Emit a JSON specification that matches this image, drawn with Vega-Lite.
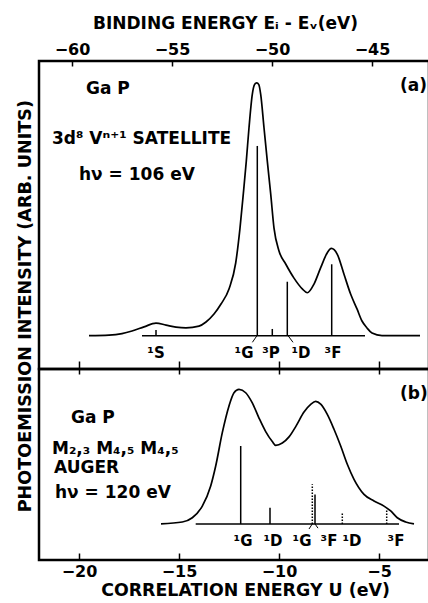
{
  "$schema": "https://vega.github.io/schema/vega-lite/v6.json",
  "padding": {"left": 17, "top": 12, "right": 0, "bottom": 0},
  "background": "white",
  "title": {"text": "PHOTOEMISSION INTENSITY (ARB. UNITS)", "orient": "left", "anchor": "middle", "font": "DejaVu Sans", "fontSize": 17.6, "fontWeight": "bold", "color": "black", "offset": 3},
  "spacing": 0,
  "bounds": "flush",
  "datasets": {
    "topCurve": [
      {"E": -59.15, "I": 0}, {"E": -58.15, "I": 0.2}, {"E": -57.5, "I": 0.8}, {"E": -57.0, "I": 1.8}, {"E": -56.4, "I": 3.4}, {"E": -55.8, "I": 4.9}, {"E": -55.3, "I": 4.1}, {"E": -54.8, "I": 3.3}, {"E": -54.3, "I": 3.0}, {"E": -53.65, "I": 3.7}, {"E": -53.3, "I": 5.3}, {"E": -52.9, "I": 8.4}, {"E": -52.55, "I": 12.3}, {"E": -52.15, "I": 18.2}, {"E": -51.815, "I": 28.3}, {"E": -51.6, "I": 41.9}, {"E": -51.435, "I": 55.2}, {"E": -51.285, "I": 68.0}, {"E": -51.15, "I": 81.0}, {"E": -50.985, "I": 94.0}, {"E": -50.875, "I": 97.8}, {"E": -50.765, "I": 98.5}, {"E": -50.66, "I": 97.8}, {"E": -50.565, "I": 94.0}, {"E": -50.4, "I": 81.0}, {"E": -50.235, "I": 68.0}, {"E": -50.065, "I": 55.2}, {"E": -49.9, "I": 41.9}, {"E": -49.65, "I": 33.0}, {"E": -49.315, "I": 27.9}, {"E": -48.9, "I": 22.4}, {"E": -48.485, "I": 18.2}, {"E": -48.235, "I": 16.7}, {"E": -47.9, "I": 20.1}, {"E": -47.565, "I": 26.5}, {"E": -47.235, "I": 32.3}, {"E": -47.035, "I": 34.0}, {"E": -46.735, "I": 31.7}, {"E": -46.4, "I": 23.9}, {"E": -46.065, "I": 16.1}, {"E": -45.75, "I": 10.4}, {"E": -45.5, "I": 5.7}, {"E": -45.25, "I": 3.0}, {"E": -45.0, "I": 1.0}, {"E": -44.5, "I": 0}, {"E": -43.9, "I": 0}, {"E": -42.6, "I": 0}
    ],
    "topBase": [{"E0": -56.5, "E1": -45.35, "I": 0}],
    "topSticks": [
      {"E": -55.8, "I0": 0, "I": 2.2}, {"E": -50.735, "I0": 0, "I": 73.9}, {"E": -49.985, "I0": 0, "I": 2.6}, {"E": -49.235, "I0": 0, "I": 21.0}, {"E": -47.015, "I0": 0, "I": 27.8}
    ],
    "topLinks": [
      {"E0": -50.75, "E1": -50.98, "I0": 0, "I1": -2.6},
      {"E0": -49.2, "E1": -48.95, "I0": 0, "I1": -2.6}
    ],
    "topLabels": [
      {"E": -55.8, "I": -6.8, "t": "¹S"}, {"E": -51.4, "I": -6.8, "t": "¹G"}, {"E": -50.05, "I": -6.8, "t": "³P"}, {"E": -48.55, "I": -6.8, "t": "¹D"}, {"E": -46.95, "I": -6.8, "t": "³F"}
    ],
    "topText": [
      {"E": -59.3, "I": 96.1, "t": "Ga P"},
      {"E": -61.0, "I": 76.6, "t": "3d⁸ Vⁿ⁺¹ SATELLITE"},
      {"E": -59.65, "I": 62.5, "t": "hν = 106 eV"},
      {"E": -43.6, "I": 97.2, "t": "(a)"}
    ],
    "botCurve": [
      {"U": -15.9, "I": 0}, {"U": -14.835, "I": 0.9}, {"U": -14.335, "I": 2.9}, {"U": -13.835, "I": 8.4}, {"U": -13.415, "I": 17.9}, {"U": -13.165, "I": 27.3}, {"U": -12.835, "I": 43.0}, {"U": -12.5, "I": 55.6}, {"U": -12.25, "I": 61.8}, {"U": -12.0, "I": 63.4}, {"U": -11.665, "I": 61.8}, {"U": -11.335, "I": 57.0}, {"U": -11.0, "I": 49.9}, {"U": -10.665, "I": 43.5}, {"U": -10.335, "I": 38.8}, {"U": -10.165, "I": 37.0}, {"U": -9.835, "I": 38.1}, {"U": -9.5, "I": 41.0}, {"U": -9.15, "I": 46.1}, {"U": -8.75, "I": 52.7}, {"U": -8.415, "I": 56.3}, {"U": -8.165, "I": 57.7}, {"U": -7.915, "I": 56.4}, {"U": -7.585, "I": 51.6}, {"U": -7.25, "I": 44.6}, {"U": -6.915, "I": 36.7}, {"U": -6.585, "I": 28.1}, {"U": -6.25, "I": 21.0}, {"U": -5.75, "I": 13.9}, {"U": -5.25, "I": 10.8}, {"U": -4.75, "I": 8.4}, {"U": -4.415, "I": 6.1}, {"U": -4.085, "I": 2.9}, {"U": -3.665, "I": 0.9}, {"U": -3.25, "I": 0}
    ],
    "botBase": [{"U0": -14.165, "U1": -4.0, "I": 0}],
    "botSticks": [
      {"U": -11.915, "I0": 0, "I": 36.7, "set": "solid"}, {"U": -10.45, "I0": 0, "I": 7.6, "set": "solid"}, {"U": -8.2, "I0": 0, "I": 13.9, "set": "solid"},
      {"U": -8.335, "I0": 0, "I": 18.7, "set": "dotted"}, {"U": -6.835, "I0": 0, "I": 5.6, "set": "dotted"}, {"U": -4.615, "I0": 0, "I": 6.9, "set": "dotted"}
    ],
    "botLinks": [
      {"U0": -8.335, "U1": -8.5, "I0": 0, "I1": -2.4},
      {"U0": -8.2, "U1": -8.05, "I0": 0, "I1": -2.0}
    ],
    "botLabels": [
      {"U": -11.8, "I": -8.1, "t": "¹G"}, {"U": -10.3, "I": -8.1, "t": "¹D"}, {"U": -8.85, "I": -8.1, "t": "¹G"}, {"U": -7.5, "I": -8.1, "t": "³F"}, {"U": -6.35, "I": -8.1, "t": "¹D"}, {"U": -4.15, "I": -8.1, "t": "³F"}
    ],
    "botText": [
      {"U": -20.4, "I": 49.9, "t": "Ga P"},
      {"U": -21.35, "I": 35.3, "t": "M₂,₃ M₄,₅ M₄,₅"},
      {"U": -21.25, "I": 26.3, "t": "AUGER"},
      {"U": -21.2, "I": 14.6, "t": "hν = 120 eV"},
      {"U": -3.95, "I": 61.2, "t": "(b)"}
    ]
  },
  "vconcat": [
    {
      "width": 390,
      "height": 308,
      "resolve": {"axis": {"x": "independent"}},
      "layer": [
        {
          "data": {"name": "topCurve"},
          "mark": {"type": "line", "color": "black", "strokeWidth": 1.7, "interpolate": "monotone"},
          "encoding": {
            "x": {"field": "E", "type": "quantitative", "scale": {"domain": [-61.65, -42.15], "nice": false, "zero": false},
              "axis": {"orient": "top", "values": [-60, -55, -50, -45], "title": "BINDING ENERGY Eᵢ - Eᵥ(eV)", "grid": false, "domain": false,
                "tickSize": -5, "tickWidth": 1.5, "tickColor": "black", "labelPadding": 9, "labelFont": "DejaVu Sans", "labelFontSize": 16, "labelFontWeight": "bold", "labelColor": "black",
                "titleFont": "DejaVu Sans", "titleFontSize": 17, "titleFontWeight": "bold", "titleColor": "black", "titlePadding": 9, "titleX": 186, "titleAnchor": "middle"}},
            "y": {"field": "I", "type": "quantitative", "scale": {"domain": [-13, 107], "nice": false, "zero": false}, "axis": null}
          }
        },
        {
          "data": {"name": "topBase"},
          "mark": {"type": "rule", "color": "black", "strokeWidth": 1.5},
          "encoding": {
            "x": {"field": "E0", "type": "quantitative", "axis": null},
            "x2": {"field": "E1"},
            "y": {"field": "I", "type": "quantitative", "axis": null}
          }
        },
        {
          "data": {"name": "topSticks"},
          "mark": {"type": "rule", "color": "black", "strokeWidth": 1.5},
          "encoding": {
            "x": {"field": "E", "type": "quantitative", "axis": null},
            "y": {"field": "I0", "type": "quantitative", "axis": null},
            "y2": {"field": "I"}
          }
        },
        {
          "data": {"name": "topLinks"},
          "mark": {"type": "rule", "color": "black", "strokeWidth": 1},
          "encoding": {
            "x": {"field": "E0", "type": "quantitative", "axis": null},
            "x2": {"field": "E1"},
            "y": {"field": "I0", "type": "quantitative", "axis": null},
            "y2": {"field": "I1"}
          }
        },
        {
          "data": {"name": "topLabels"},
          "mark": {"type": "text", "font": "DejaVu Sans", "fontSize": 15, "fontWeight": "bold", "color": "black", "align": "center", "baseline": "middle"},
          "encoding": {
            "x": {"field": "E", "type": "quantitative", "axis": null},
            "y": {"field": "I", "type": "quantitative", "axis": null},
            "text": {"field": "t"}
          }
        },
        {
          "data": {"name": "topText"},
          "mark": {"type": "text", "font": "DejaVu Sans", "fontSize": 17, "fontWeight": "bold", "color": "black", "align": "left", "baseline": "middle"},
          "encoding": {
            "x": {"field": "E", "type": "quantitative", "axis": null},
            "y": {"field": "I", "type": "quantitative", "axis": null},
            "text": {"field": "t"}
          }
        }
      ]
    },
    {
      "width": 390,
      "height": 191,
      "resolve": {"axis": {"x": "independent"}},
      "layer": [
        {
          "data": {"name": "botCurve"},
          "mark": {"type": "line", "color": "black", "strokeWidth": 1.7, "interpolate": "monotone"},
          "encoding": {
            "x": {"field": "U", "type": "quantitative", "scale": {"domain": [-22, -2.5], "nice": false, "zero": false},
              "axis": {"orient": "bottom", "values": [-20, -15, -10, -5], "title": "CORRELATION ENERGY U (eV)", "grid": false, "domain": false,
                "tickSize": -7, "tickWidth": 1.5, "tickColor": "black", "labelPadding": 10, "labelFont": "DejaVu Sans", "labelFontSize": 16, "labelFontWeight": "bold", "labelColor": "black",
                "titleFont": "DejaVu Sans", "titleFontSize": 17.4, "titleFontWeight": "bold", "titleColor": "black", "titlePadding": 2, "titleX": 206, "titleAnchor": "middle"}},
            "y": {"field": "I", "type": "quantitative", "scale": {"domain": [-17, 73], "nice": false, "zero": false}, "axis": null}
          }
        },
        {
          "data": {"name": "botBase"},
          "mark": {"type": "rule", "color": "black", "strokeWidth": 1.5},
          "encoding": {
            "x": {"field": "U0", "type": "quantitative",
              "axis": {"orient": "top", "values": [-20, -15, -10, -5], "title": null, "labels": false, "domain": false, "grid": false, "offset": -5, "tickSize": 13, "tickWidth": 1.5, "tickColor": "black"}},
            "x2": {"field": "U1"},
            "y": {"field": "I", "type": "quantitative", "axis": null}
          }
        },
        {
          "data": {"name": "botSticks"},
          "mark": {"type": "rule", "color": "black", "strokeWidth": 1.5},
          "encoding": {
            "x": {"field": "U", "type": "quantitative", "axis": null},
            "y": {"field": "I0", "type": "quantitative", "axis": null},
            "y2": {"field": "I"},
            "strokeDash": {"field": "set", "type": "nominal", "scale": {"domain": ["solid", "dotted"], "range": [[1, 0], [1.5, 1.5]]}, "legend": null}
          }
        },
        {
          "data": {"name": "botLinks"},
          "mark": {"type": "rule", "color": "black", "strokeWidth": 1},
          "encoding": {
            "x": {"field": "U0", "type": "quantitative", "axis": null},
            "x2": {"field": "U1"},
            "y": {"field": "I0", "type": "quantitative", "axis": null},
            "y2": {"field": "I1"}
          }
        },
        {
          "data": {"name": "botLabels"},
          "mark": {"type": "text", "font": "DejaVu Sans", "fontSize": 15, "fontWeight": "bold", "color": "black", "align": "center", "baseline": "middle"},
          "encoding": {
            "x": {"field": "U", "type": "quantitative", "axis": null},
            "y": {"field": "I", "type": "quantitative", "axis": null},
            "text": {"field": "t"}
          }
        },
        {
          "data": {"name": "botText"},
          "mark": {"type": "text", "font": "DejaVu Sans", "fontSize": 17, "fontWeight": "bold", "color": "black", "align": "left", "baseline": "middle"},
          "encoding": {
            "x": {"field": "U", "type": "quantitative", "axis": null},
            "y": {"field": "I", "type": "quantitative", "axis": null},
            "text": {"field": "t"}
          }
        }
      ]
    }
  ],
  "config": {
    "view": {"stroke": "black", "strokeWidth": 2.5},
    "font": "DejaVu Sans"
  }
}
